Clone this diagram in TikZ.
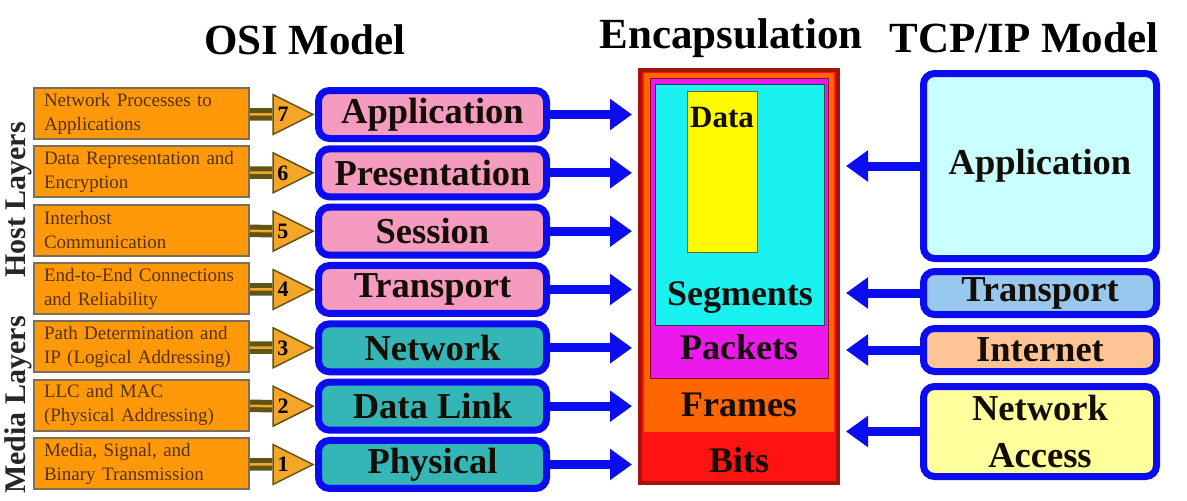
\documentclass[tikz,border=0pt]{standalone}
\usepackage{fontspec}
\setmainfont{Liberation Serif}
\usepackage{xcolor}
\usepackage{tikz}
\usetikzlibrary{shapes.geometric, arrows.meta, positioning}

\definecolor{layerblue}{RGB}{12,12,240}
\definecolor{upperpink}{RGB}{246,155,192}
\definecolor{lowerteal}{RGB}{52,182,182}
\definecolor{descorange}{RGB}{255,153,10}
\definecolor{descedge}{RGB}{125,110,85}
\definecolor{desctext}{RGB}{85,50,0}
\definecolor{tipfill}{RGB}{245,165,40}
\definecolor{tipedge}{RGB}{95,85,25}
\definecolor{bitsred}{RGB}{255,18,18}
\definecolor{bitsedge}{RGB}{165,20,10}
\definecolor{frameorange}{RGB}{255,102,0}
\definecolor{packetmagenta}{RGB}{235,25,235}
\definecolor{segcyan}{RGB}{25,240,240}
\definecolor{datayellow}{RGB}{255,250,0}
\definecolor{appcyan}{RGB}{202,255,255}
\definecolor{transblue}{RGB}{152,200,238}
\definecolor{netpeach}{RGB}{255,196,150}
\definecolor{accyellow}{RGB}{255,255,155}

\begin{document}
\begin{tikzpicture}[x=1pt, y=-1pt, node distance=58.33pt, auto,
    layer/.style={draw=layerblue, line width=7pt, rounded corners=11pt, minimum width=228pt, minimum height=48pt, inner sep=0pt, text=black!90!brown, font=\fontsize{36.5}{38}\selectfont\bfseries},
    desc/.style={draw=descedge, line width=2pt, fill=descorange, minimum width=215pt, minimum height=51pt, inner xsep=10pt, text width=195pt, align=left, text=desctext, font=\fontsize{19}{24}\selectfont},
    tip/.style={isosceles triangle, isosceles triangle stretches, draw=tipedge, line width=1.5pt, fill=tipfill, minimum width=40pt, minimum height=40pt, inner sep=0pt, font=\fontsize{22}{22}\selectfont\bfseries, anchor=apex},
    link/.style={draw=tipedge, line width=5pt, double=tipfill, double distance=2.5pt},
    bluearrow/.style={draw=layerblue, line width=9pt, -{Triangle[length=22pt, width=30pt]}, shorten >=6pt},
    pdu/.style={inner sep=0pt, text=black!90!brown, font=\fontsize{36}{38}\selectfont\bfseries, anchor=base},
    heading/.style={font=\fontsize{43}{45}\selectfont\bfseries},
    side/.style={rotate=90, anchor=base, text=black!85, font=\fontsize{30}{32}\selectfont\bfseries}]
    \useasboundingbox (0,0) rectangle (1187,501);

    % Headings
    \node [heading] (osititle) at (305,40) {OSI Model};
    \node [heading] (enctitle) at (731,38) {Encapsulation};
    \node [heading] (tcptitle) at (1024,38) {TCP/IP Model};
    \node [side] (host) at (25,200) {Host Layers};
    \node [side] (media) at (25,405) {Media Layers};

    % OSI layers
    \node [layer, fill=upperpink] (app) at (432.5,114.5) {Application};
    \node [layer, fill=upperpink, below of=app] (pres) {Presentation};
    \node [layer, fill=upperpink, below of=pres] (sess) {Session};
    \node [layer, fill=upperpink, below of=sess] (trans) {Transport};
    \node [layer, fill=lowerteal, below of=trans] (net) {Network};
    \node [layer, fill=lowerteal, below of=net] (link) {Data Link};
    \node [layer, fill=lowerteal, below of=link] (phys) {Physical};

    % Layer functions
    \node [desc] (d7) at (141.5,113.5) {Network Processes to\\Applications};
    \node [desc, below of=d7] (d6) {Data Representation and\\Encryption};
    \node [desc, below of=d6] (d5) {Interhost\\Communication};
    \node [desc, below of=d5] (d4) {End-to-End Connections\\and Reliability};
    \node [desc, below of=d4] (d3) {Path Determination and\\IP (Logical Addressing)};
    \node [desc, below of=d3] (d2) {LLC and MAC\\(Physical Addressing)};
    \node [desc, below of=d2] (d1) {Media, Signal, and\\Binary Transmission};

    % Layer numbers
    \node [tip] (t7) at (app.west) {7};
    \node [tip] (t6) at (pres.west) {6};
    \node [tip] (t5) at (sess.west) {5};
    \node [tip] (t4) at (trans.west) {4};
    \node [tip] (t3) at (net.west) {3};
    \node [tip] (t2) at (link.west) {2};
    \node [tip] (t1) at (phys.west) {1};

    % Encapsulation column
    \node [draw=bitsedge, line width=4pt, fill=bitsred, minimum width=198pt, minimum height=413pt] (bits) at (739,276.5) {};
    \node [fill=frameorange, minimum width=190pt, minimum height=359pt] (frames) at (739,252.5) {};
    \node [draw=purple!70!black, line width=1pt, fill=packetmagenta, minimum width=178pt, minimum height=300pt] (packets) at (739,228) {};
    \node [draw=teal!60!black, line width=1pt, fill=segcyan, minimum width=169pt, minimum height=241pt] (segs) at (739.5,204.5) {};
    \node [draw=olive!70!black, line width=1pt, fill=datayellow, minimum width=70pt, minimum height=161pt] (data) at (722,171.5) {};
    \node [pdu, font=\fontsize{31}{33}\selectfont\bfseries] (datatxt) at (722,127) {Data};
    \node [pdu] (segstxt) at (740,305) {Segments};
    \node [pdu] (packtxt) at (739,359) {Packets};
    \node [pdu] (framtxt) at (739,416) {Frames};
    \node [pdu] (bitstxt) at (739,472) {Bits};

    % TCP/IP layers
    \node [layer, fill=appcyan, minimum width=233pt, minimum height=185pt] (tapp) at (1040,166) {Application};
    \node [layer, fill=transblue, minimum width=233pt, minimum height=43pt] (ttrans) at (1040,293) {Transport};
    \node [layer, fill=netpeach, minimum width=233pt, minimum height=43pt] (tnet) at (1040,350) {Internet};
    \node [layer, fill=accyellow, minimum width=233pt, minimum height=90pt, align=center, font=\fontsize{36.5}{47}\selectfont\bfseries] (tacc) at (1040,431.5) {Network\\Access};

    % Arrows
    \draw [link] (d7) -- (t7);
    \draw [link] (d6) -- (t6);
    \draw [link] (d5) -- (t5);
    \draw [link] (d4) -- (t4);
    \draw [link] (d3) -- (t3);
    \draw [link] (d2) -- (t2);
    \draw [link] (d1) -- (t1);

    \draw [bluearrow] (app.east) -- (app.east -| bits.west);
    \draw [bluearrow] (pres.east) -- (pres.east -| bits.west);
    \draw [bluearrow] (sess.east) -- (sess.east -| bits.west);
    \draw [bluearrow] (trans.east) -- (trans.east -| bits.west);
    \draw [bluearrow] (net.east) -- (net.east -| bits.west);
    \draw [bluearrow] (link.east) -- (link.east -| bits.west);
    \draw [bluearrow] (phys.east) -- (phys.east -| bits.west);

    \draw [bluearrow] (tapp.west) -- (tapp.west -| bits.east);
    \draw [bluearrow] (ttrans.west) -- (ttrans.west -| bits.east);
    \draw [bluearrow] (tnet.west) -- (tnet.west -| bits.east);
    \draw [bluearrow] (tacc.west) -- (tacc.west -| bits.east);
\end{tikzpicture}
\end{document}
